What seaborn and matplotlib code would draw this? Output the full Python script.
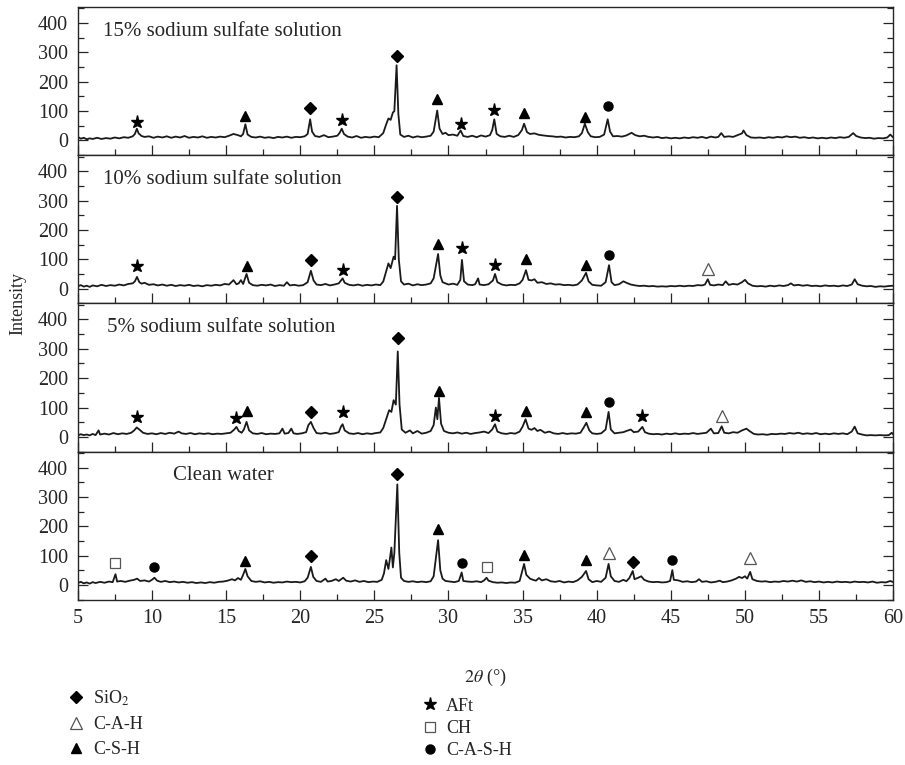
import pandas as pd
import numpy as np
import matplotlib.pyplot as plt
import seaborn as sns
from matplotlib.lines import Line2D
from matplotlib.ticker import MultipleLocator

# XRD traces: (2theta, intensity)
sulfate_15 = [
    (5.0, 12), (5.2, 6), (5.4, 9), (5.6, 4), (5.8, 7), (6.0, 5), (6.3, 9), (6.6, 5), (6.9, 8), (7.2, 6),
    (7.5, 10), (7.8, 7), (8.1, 11), (8.4, 9), (8.7, 14), (8.85, 22), (8.98, 40), (9.1, 24), (9.3, 15), (9.5, 12),
    (9.8, 14), (10.1, 9), (10.4, 13), (10.7, 10), (11.0, 14), (11.3, 9), (11.6, 13), (11.9, 10), (12.2, 15), (12.5, 9),
    (12.8, 12), (13.1, 10), (13.4, 14), (13.7, 9), (14.0, 12), (14.3, 10), (14.6, 13), (14.9, 11), (15.2, 16), (15.5, 22),
    (15.8, 18), (16.0, 14), (16.15, 22), (16.3, 55), (16.45, 20), (16.7, 12), (17.0, 10), (17.3, 13), (17.6, 9), (17.9, 11),
    (18.2, 8), (18.5, 12), (18.8, 10), (19.1, 13), (19.4, 9), (19.7, 12), (20.0, 11), (20.3, 14), (20.5, 22), (20.67, 72),
    (20.8, 30), (21.0, 15), (21.3, 12), (21.6, 18), (21.9, 11), (22.2, 13), (22.5, 16), (22.65, 25), (22.8, 40), (22.95, 22),
    (23.2, 13), (23.5, 10), (23.8, 15), (24.1, 9), (24.4, 12), (24.7, 10), (25.0, 13), (25.3, 11), (25.6, 25), (25.8, 55),
    (25.95, 75), (26.1, 70), (26.25, 95), (26.35, 100), (26.5, 256), (26.62, 90), (26.75, 20), (27.0, 12), (27.3, 16), (27.6, 10),
    (27.9, 14), (28.2, 11), (28.5, 13), (28.8, 16), (29.0, 30), (29.24, 102), (29.4, 40), (29.6, 22), (29.8, 26), (30.0, 18),
    (30.3, 20), (30.6, 16), (30.82, 34), (31.0, 15), (31.3, 12), (31.6, 16), (31.9, 11), (32.2, 17), (32.5, 13), (32.8, 18),
    (32.95, 35), (33.09, 72), (33.25, 22), (33.5, 14), (33.8, 12), (34.1, 16), (34.4, 12), (34.7, 18), (34.95, 35), (35.1, 57),
    (35.3, 28), (35.5, 22), (35.8, 24), (36.1, 19), (36.4, 17), (36.7, 15), (37.0, 14), (37.3, 12), (37.6, 13), (37.9, 10),
    (38.2, 12), (38.5, 11), (38.8, 14), (39.0, 25), (39.2, 57), (39.4, 28), (39.6, 14), (39.9, 11), (40.2, 12), (40.5, 20),
    (40.74, 72), (40.9, 30), (41.1, 14), (41.4, 15), (41.7, 13), (42.0, 17), (42.35, 26), (42.6, 18), (42.9, 14), (43.2, 16),
    (43.5, 12), (43.8, 10), (44.1, 12), (44.4, 8), (44.7, 10), (45.0, 7), (45.3, 9), (45.6, 7), (45.9, 10), (46.2, 8),
    (46.5, 11), (46.8, 9), (47.1, 12), (47.4, 8), (47.7, 13), (48.0, 10), (48.2, 12), (48.4, 25), (48.6, 12), (48.9, 14),
    (49.2, 12), (49.5, 18), (49.8, 24), (49.9, 34), (50.1, 18), (50.4, 10), (50.7, 9), (51.0, 10), (51.3, 8), (51.6, 11),
    (51.9, 9), (52.2, 12), (52.5, 10), (52.8, 14), (53.1, 11), (53.4, 13), (53.7, 9), (54.0, 11), (54.3, 8), (54.6, 10),
    (54.9, 7), (55.2, 9), (55.5, 7), (55.8, 10), (56.1, 8), (56.4, 11), (56.7, 9), (57.0, 12), (57.3, 25), (57.5, 15),
    (57.8, 10), (58.1, 8), (58.4, 9), (58.7, 6), (59.0, 8), (59.3, 7), (59.6, 10), (59.8, 20), (60.0, 10),
]

sulfate_10 = [
    (5.0, 8), (5.2, 12), (5.4, 7), (5.6, 10), (5.8, 6), (6.0, 11), (6.3, 8), (6.6, 13), (6.9, 9), (7.2, 12),
    (7.5, 10), (7.8, 14), (8.1, 11), (8.4, 16), (8.7, 18), (8.85, 25), (8.99, 40), (9.15, 22), (9.3, 17), (9.5, 20),
    (9.8, 13), (10.1, 15), (10.4, 11), (10.7, 14), (11.0, 10), (11.3, 13), (11.6, 9), (11.9, 12), (12.2, 10), (12.5, 13),
    (12.8, 9), (13.1, 11), (13.4, 8), (13.7, 12), (14.0, 10), (14.3, 13), (14.6, 11), (14.9, 16), (15.2, 14), (15.5, 29),
    (15.7, 15), (15.85, 18), (16.0, 29), (16.15, 16), (16.38, 50), (16.55, 20), (16.8, 12), (17.1, 10), (17.4, 13), (17.7, 11),
    (18.0, 14), (18.3, 9), (18.6, 12), (18.9, 10), (19.1, 22), (19.3, 11), (19.6, 13), (19.9, 10), (20.2, 12), (20.5, 22),
    (20.72, 61), (20.9, 28), (21.1, 14), (21.4, 12), (21.7, 16), (22.0, 11), (22.3, 14), (22.6, 18), (22.86, 35), (23.0, 20),
    (23.3, 13), (23.6, 11), (23.9, 14), (24.2, 10), (24.5, 13), (24.8, 11), (25.1, 14), (25.4, 12), (25.6, 24), (25.8, 60),
    (25.95, 86), (26.1, 70), (26.3, 109), (26.4, 100), (26.53, 282), (26.65, 100), (26.8, 25), (27.0, 14), (27.3, 17), (27.6, 11),
    (27.9, 15), (28.2, 12), (28.5, 14), (28.8, 18), (29.0, 35), (29.3, 118), (29.45, 45), (29.6, 22), (29.8, 18), (30.0, 14),
    (30.3, 17), (30.6, 13), (30.8, 30), (30.91, 98), (31.05, 25), (31.3, 14), (31.6, 12), (31.8, 15), (32.0, 35), (32.1, 14),
    (32.4, 12), (32.7, 15), (33.0, 28), (33.14, 50), (33.3, 22), (33.6, 14), (33.9, 11), (34.2, 13), (34.5, 12), (34.8, 18),
    (35.0, 30), (35.23, 63), (35.4, 30), (35.6, 28), (35.8, 32), (36.0, 20), (36.3, 22), (36.6, 16), (36.9, 18), (37.2, 14),
    (37.5, 15), (37.8, 12), (38.1, 13), (38.4, 11), (38.7, 14), (39.0, 28), (39.28, 54), (39.45, 25), (39.7, 13), (40.0, 11),
    (40.3, 10), (40.6, 22), (40.83, 80), (41.0, 22), (41.2, 12), (41.5, 15), (41.8, 25), (42.0, 20), (42.3, 14), (42.6, 11),
    (42.9, 9), (43.2, 10), (43.5, 8), (43.8, 9), (44.1, 7), (44.4, 8), (44.7, 7), (45.0, 9), (45.3, 8), (45.6, 10),
    (45.9, 8), (46.2, 10), (46.5, 9), (46.8, 12), (47.1, 11), (47.3, 14), (47.49, 32), (47.65, 13), (47.9, 11), (48.2, 14),
    (48.5, 12), (48.7, 25), (48.9, 13), (49.2, 16), (49.5, 14), (49.8, 22), (50.0, 30), (50.2, 18), (50.5, 10), (50.8, 8),
    (51.1, 9), (51.4, 7), (51.7, 10), (52.0, 8), (52.3, 11), (52.6, 9), (52.9, 12), (53.1, 18), (53.3, 11), (53.6, 13),
    (53.9, 10), (54.2, 12), (54.5, 9), (54.8, 10), (55.1, 8), (55.4, 11), (55.7, 9), (56.0, 10), (56.3, 8), (56.6, 11),
    (56.9, 9), (57.2, 14), (57.4, 32), (57.6, 15), (57.9, 10), (58.2, 8), (58.5, 9), (58.8, 6), (59.1, 8), (59.4, 7),
    (59.7, 9), (60.0, 10),
]

sulfate_5 = [
    (5.0, 5), (5.2, 9), (5.4, 6), (5.6, 8), (5.8, 5), (6.0, 10), (6.2, 6), (6.4, 22), (6.5, 8), (6.8, 11),
    (7.1, 8), (7.4, 13), (7.7, 9), (8.0, 12), (8.3, 10), (8.6, 14), (8.8, 22), (8.97, 32), (9.15, 25), (9.4, 14),
    (9.7, 10), (10.0, 12), (10.3, 9), (10.6, 13), (10.9, 10), (11.2, 14), (11.5, 11), (11.8, 18), (12.0, 12), (12.3, 10),
    (12.6, 13), (12.9, 9), (13.2, 12), (13.5, 10), (13.8, 12), (14.1, 9), (14.4, 11), (14.7, 10), (15.0, 12), (15.3, 14),
    (15.55, 25), (15.7, 34), (15.85, 20), (16.05, 14), (16.2, 25), (16.38, 51), (16.55, 22), (16.8, 12), (17.1, 10), (17.4, 13),
    (17.7, 9), (18.0, 11), (18.3, 10), (18.6, 12), (18.8, 28), (18.95, 11), (19.2, 13), (19.4, 28), (19.55, 12), (19.8, 10),
    (20.1, 12), (20.4, 16), (20.55, 40), (20.72, 51), (20.9, 30), (21.1, 13), (21.4, 11), (21.7, 14), (22.0, 10), (22.3, 12),
    (22.6, 16), (22.75, 35), (22.86, 43), (23.0, 22), (23.3, 12), (23.6, 10), (23.9, 13), (24.2, 9), (24.5, 12), (24.8, 10),
    (25.1, 13), (25.4, 15), (25.6, 30), (25.8, 60), (26.0, 91), (26.15, 85), (26.3, 125), (26.45, 110), (26.58, 291), (26.7, 110),
    (26.85, 25), (27.1, 14), (27.4, 22), (27.6, 12), (27.9, 20), (28.2, 11), (28.5, 14), (28.8, 20), (29.0, 40), (29.15, 100),
    (29.25, 60), (29.36, 133), (29.5, 45), (29.7, 20), (30.0, 14), (30.3, 12), (30.6, 15), (30.9, 11), (31.2, 14), (31.5, 10),
    (31.8, 13), (32.1, 15), (32.4, 18), (32.7, 13), (32.95, 25), (33.14, 43), (33.3, 18), (33.6, 12), (33.9, 10), (34.2, 13),
    (34.5, 11), (34.8, 18), (35.0, 35), (35.2, 60), (35.4, 28), (35.6, 24), (35.8, 30), (36.0, 20), (36.2, 24), (36.5, 14),
    (36.8, 18), (37.1, 12), (37.4, 10), (37.7, 13), (38.0, 10), (38.3, 12), (38.6, 11), (38.9, 14), (39.1, 30), (39.3, 48),
    (39.5, 22), (39.7, 12), (40.0, 10), (40.3, 12), (40.6, 25), (40.8, 85), (40.95, 25), (41.2, 12), (41.5, 14), (41.8, 16),
    (42.0, 20), (42.3, 25), (42.5, 16), (42.8, 18), (43.08, 34), (43.25, 16), (43.5, 11), (43.8, 9), (44.1, 10), (44.4, 8),
    (44.7, 11), (45.0, 9), (45.3, 12), (45.6, 9), (45.9, 11), (46.2, 10), (46.5, 13), (46.8, 10), (47.1, 12), (47.4, 14),
    (47.7, 28), (47.9, 12), (48.2, 13), (48.43, 36), (48.6, 14), (48.9, 12), (49.2, 16), (49.5, 14), (49.8, 22), (50.1, 28),
    (50.3, 20), (50.6, 10), (50.9, 8), (51.2, 9), (51.5, 7), (51.8, 10), (52.1, 9), (52.4, 11), (52.7, 10), (53.0, 13),
    (53.3, 11), (53.6, 14), (53.9, 10), (54.2, 12), (54.5, 10), (54.8, 13), (55.1, 9), (55.4, 11), (55.7, 9), (56.0, 12),
    (56.3, 10), (56.6, 12), (56.9, 9), (57.2, 18), (57.4, 35), (57.6, 12), (57.9, 8), (58.2, 5), (58.5, 6), (58.8, 5),
    (59.1, 6), (59.4, 5), (59.7, 6), (59.9, 14), (60.0, 8),
]

clean_water = [
    (5.0, 7), (5.2, 11), (5.4, 6), (5.6, 9), (5.8, 5), (6.0, 10), (6.2, 7), (6.5, 11), (6.8, 8), (7.1, 12),
    (7.35, 10), (7.54, 37), (7.65, 12), (7.9, 14), (8.2, 11), (8.5, 15), (8.8, 18), (9.0, 22), (9.2, 14), (9.5, 16),
    (9.8, 12), (10.0, 18), (10.17, 25), (10.35, 15), (10.6, 11), (10.9, 14), (11.2, 10), (11.5, 12), (11.8, 9), (12.1, 11),
    (12.4, 8), (12.7, 10), (13.0, 7), (13.3, 9), (13.6, 7), (13.9, 10), (14.2, 8), (14.5, 11), (14.8, 12), (15.1, 15),
    (15.4, 20), (15.6, 16), (15.8, 24), (16.0, 18), (16.15, 35), (16.3, 55), (16.45, 30), (16.7, 14), (17.0, 11), (17.3, 13),
    (17.6, 9), (17.9, 11), (18.2, 8), (18.5, 10), (18.8, 9), (19.1, 12), (19.4, 10), (19.7, 11), (20.0, 9), (20.3, 13),
    (20.5, 25), (20.72, 62), (20.88, 28), (21.1, 14), (21.4, 11), (21.7, 22), (21.85, 12), (22.1, 14), (22.4, 20), (22.6, 14),
    (22.9, 25), (23.1, 15), (23.4, 12), (23.7, 16), (24.0, 11), (24.3, 14), (24.6, 10), (24.9, 12), (25.2, 11), (25.5, 18),
    (25.65, 40), (25.8, 85), (25.95, 55), (26.05, 90), (26.15, 128), (26.25, 60), (26.35, 110), (26.55, 343), (26.68, 110), (26.8, 25),
    (27.0, 14), (27.3, 11), (27.6, 13), (27.9, 10), (28.2, 12), (28.5, 10), (28.8, 13), (29.0, 30), (29.3, 153), (29.45, 50),
    (29.6, 22), (29.8, 14), (30.1, 12), (30.4, 10), (30.7, 14), (30.89, 43), (31.0, 14), (31.3, 12), (31.6, 11), (31.9, 13),
    (32.2, 10), (32.4, 16), (32.57, 25), (32.7, 15), (33.0, 10), (33.3, 8), (33.6, 9), (33.9, 7), (34.2, 9), (34.5, 8),
    (34.8, 14), (35.1, 72), (35.25, 35), (35.5, 22), (35.7, 18), (35.9, 15), (36.1, 24), (36.3, 16), (36.6, 20), (36.9, 13),
    (37.2, 11), (37.5, 14), (37.8, 9), (38.1, 12), (38.4, 10), (38.7, 16), (39.0, 28), (39.28, 48), (39.45, 20), (39.7, 10),
    (40.0, 14), (40.3, 11), (40.6, 25), (40.8, 72), (40.95, 30), (41.2, 14), (41.5, 11), (41.8, 18), (42.0, 13), (42.2, 24),
    (42.43, 48), (42.55, 20), (42.8, 25), (43.0, 30), (43.2, 18), (43.5, 12), (43.8, 10), (44.1, 11), (44.4, 9), (44.7, 10),
    (44.95, 14), (45.1, 51), (45.2, 18), (45.5, 16), (45.8, 11), (46.1, 13), (46.4, 10), (46.7, 12), (46.9, 20), (47.1, 11),
    (47.4, 13), (47.7, 9), (48.0, 11), (48.3, 15), (48.5, 10), (48.8, 12), (49.1, 16), (49.4, 22), (49.6, 28), (49.8, 24),
    (50.0, 30), (50.15, 22), (50.35, 45), (50.5, 20), (50.8, 14), (51.1, 12), (51.4, 13), (51.7, 10), (52.0, 12), (52.3, 11),
    (52.6, 14), (52.9, 12), (53.2, 15), (53.5, 12), (53.8, 16), (54.1, 11), (54.4, 13), (54.7, 10), (55.0, 12), (55.3, 9),
    (55.6, 11), (55.9, 9), (56.2, 12), (56.5, 10), (56.8, 11), (57.1, 9), (57.4, 12), (57.7, 10), (58.0, 11), (58.3, 9),
    (58.6, 12), (58.9, 8), (59.2, 10), (59.5, 9), (59.8, 14), (60.0, 10),
]

# peak labels: (phase, 2theta, height of the symbol)
marks_15 = [('AFt', 8.98, 62), ('C-S-H', 16.3, 83), ('SiO2', 20.67, 110), ('AFt', 22.8, 69),
            ('SiO2', 26.5, 287), ('C-S-H', 29.24, 140), ('AFt', 30.82, 57), ('AFt', 33.09, 105),
            ('C-S-H', 35.1, 92), ('C-S-H', 39.2, 80), ('C-A-S-H', 40.74, 116)]
marks_10 = [('AFt', 8.99, 78), ('C-S-H', 16.38, 77), ('SiO2', 20.72, 98), ('AFt', 22.86, 63),
            ('SiO2', 26.53, 313), ('C-S-H', 29.3, 153), ('AFt', 30.91, 137), ('AFt', 33.14, 80),
            ('C-S-H', 35.23, 100), ('C-S-H', 39.28, 80), ('C-A-S-H', 40.83, 115), ('C-A-H', 47.49, 66)]
marks_5 = [('AFt', 8.97, 68), ('AFt', 15.7, 64), ('C-S-H', 16.38, 87), ('SiO2', 20.72, 86),
           ('AFt', 22.86, 85), ('SiO2', 26.58, 336), ('C-S-H', 29.36, 155), ('AFt', 33.14, 72),
           ('C-S-H', 35.2, 88), ('C-S-H', 39.3, 84), ('C-A-S-H', 40.8, 118), ('AFt', 43.08, 70),
           ('C-A-H', 48.43, 70)]
marks_clean = [('CH', 7.54, 74), ('C-A-S-H', 10.17, 61), ('C-S-H', 16.3, 82), ('SiO2', 20.72, 100),
               ('SiO2', 26.55, 380), ('C-S-H', 29.3, 190), ('C-A-S-H', 30.89, 76), ('CH', 32.57, 62),
               ('C-S-H', 35.1, 104), ('C-S-H', 39.28, 85), ('C-A-H', 40.8, 110), ('SiO2', 42.43, 80),
               ('C-A-S-H', 45.1, 84), ('C-A-H', 50.35, 91)]

panel_names = ['15% sodium sulfate solution', '10% sodium sulfate solution',
               '5% sodium sulfate solution', 'Clean water']
panel_traces = [sulfate_15, sulfate_10, sulfate_5, clean_water]
panel_marks = [marks_15, marks_10, marks_5, marks_clean]
name_x = [6.7, 6.7, 6.95, 11.4]

# symbol for each phase
phase_style = {
    'SiO2': dict(marker='D', ms=6, mfc='black', mec='black'),
    'C-A-H': dict(marker='^', ms=8.5, mfc='white', mec='#555555', mew=0.9),
    'C-S-H': dict(marker='^', ms=7.5, mfc='black', mec='black'),
    'AFt': dict(marker='*', ms=9.5, mfc='black', mec='black'),
    'CH': dict(marker='s', ms=6.5, mfc='white', mec='#555555', mew=0.9),
    'C-A-S-H': dict(marker='o', ms=6.5, mfc='black', mec='black'),
}
phase_label = {'SiO2': 'SiO$_2$', 'C-A-H': 'C-A-H', 'C-S-H': 'C-S-H',
               'AFt': 'AFt', 'CH': 'CH', 'C-A-S-H': 'C-A-S-H'}

sns.set_style('ticks')
plt.rcParams['font.family'] = ['Liberation Serif', 'DejaVu Serif']
plt.rcParams['mathtext.fontset'] = 'stix'

fig, axes = plt.subplots(4, 1, sharex=True, figsize=(9.05, 7.65), dpi=100)
fig.subplots_adjust(left=0.086, right=0.987, top=0.991, bottom=0.216, hspace=0)

for ax, name, trace, marks, nx in zip(axes, panel_names, panel_traces, panel_marks, name_x):
    df = pd.DataFrame(trace, columns=['two_theta', 'intensity'])
    sns.lineplot(data=df, x='two_theta', y='intensity', ax=ax, color='#1a1a1a',
                 lw=1.3, sort=False, estimator=None)
    for phase, px, py in marks:
        ax.plot(px, py, ls='none', **phase_style[phase])
    ax.text(nx, 372, name, fontsize=15, va='center', ha='left')
    ax.set_xlim(5, 60)
    ax.set_ylim(-50, 455)
    ax.set_yticks([0, 100, 200, 300, 400])
    ax.yaxis.set_minor_locator(MultipleLocator(50))
    ax.xaxis.set_major_locator(MultipleLocator(5))
    ax.xaxis.set_minor_locator(MultipleLocator(2.5))
    ax.tick_params(which='both', direction='in', right=True, labelsize=14.5, pad=7, width=0.9)
    ax.tick_params(which='major', length=7)
    ax.tick_params(which='minor', length=4)
    ax.set_xlabel('')
    ax.set_ylabel('')
    for sp in ax.spines.values():
        sp.set_linewidth(1.0)

axes[-1].set_xlabel(r'$2\theta$ (°)', fontsize=13, labelpad=28)
fig.text(0.02, 0.603, 'Intensity', rotation=90, fontsize=13, va='center', ha='center')

def legend_handles(phases):
    return [Line2D([], [], ls='none', **phase_style[p]) for p in phases]

left_phases = ['SiO2', 'C-A-H', 'C-S-H']
right_phases = ['AFt', 'CH', 'C-A-S-H']
leg1 = fig.legend(legend_handles(left_phases), [phase_label[p] for p in left_phases],
                  loc='upper left', bbox_to_anchor=(0.066, 0.112), frameon=False, fontsize=13,
                  handlelength=0.8, handletextpad=0.55, labelspacing=0.45, borderpad=0)
leg2 = fig.legend(legend_handles(right_phases), [phase_label[p] for p in right_phases],
                  loc='upper left', bbox_to_anchor=(0.457, 0.1), frameon=False, fontsize=13,
                  handlelength=0.8, handletextpad=0.5, labelspacing=0.3, borderpad=0)

fig.savefig('out.png', dpi=100)
